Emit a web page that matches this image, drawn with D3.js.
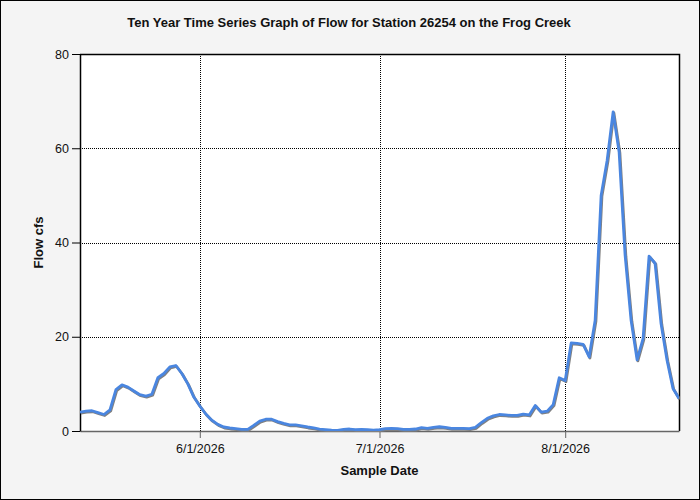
<!DOCTYPE html>
<html>
<head>
<meta charset="utf-8">
<script src="https://cdn.jsdelivr.net/npm/d3@7"></script>
<style>
  html, body { margin: 0; padding: 0; background: #f4f4f4; }
  svg { display: block; font-family: "Liberation Sans", Arial, sans-serif; }
</style>
</head>
<body>
<script>
/** Chart data */
const chartTitle = "Ten Year Time Series Graph of Flow for Station 26254 on the Frog Creek";
const xLabel = "Sample Date";
const yLabel = "Flow cfs";

const sampleDates = [
    "2026-05-12", "2026-05-13", "2026-05-14", "2026-05-15", "2026-05-16", "2026-05-17", "2026-05-18",
    "2026-05-19", "2026-05-20", "2026-05-21", "2026-05-22", "2026-05-23", "2026-05-24", "2026-05-25",
    "2026-05-26", "2026-05-27", "2026-05-28", "2026-05-29", "2026-05-30", "2026-05-31",
    "2026-06-01", "2026-06-02", "2026-06-03", "2026-06-04", "2026-06-05", "2026-06-06", "2026-06-07",
    "2026-06-08", "2026-06-09", "2026-06-10", "2026-06-11", "2026-06-12", "2026-06-13", "2026-06-14",
    "2026-06-15", "2026-06-16", "2026-06-17", "2026-06-18", "2026-06-19", "2026-06-20", "2026-06-21",
    "2026-06-22", "2026-06-23", "2026-06-24", "2026-06-25", "2026-06-26", "2026-06-27", "2026-06-28",
    "2026-06-29", "2026-06-30",
    "2026-07-01", "2026-07-02", "2026-07-03", "2026-07-04", "2026-07-05", "2026-07-06", "2026-07-07",
    "2026-07-08", "2026-07-09", "2026-07-10", "2026-07-11", "2026-07-12", "2026-07-13", "2026-07-14",
    "2026-07-15", "2026-07-16", "2026-07-17", "2026-07-18", "2026-07-19", "2026-07-20", "2026-07-21",
    "2026-07-22", "2026-07-23", "2026-07-24", "2026-07-25", "2026-07-26", "2026-07-27", "2026-07-28",
    "2026-07-29", "2026-07-30", "2026-07-31",
    "2026-08-01", "2026-08-02", "2026-08-03", "2026-08-04", "2026-08-05", "2026-08-06", "2026-08-07",
    "2026-08-08", "2026-08-09", "2026-08-10", "2026-08-11", "2026-08-12", "2026-08-13", "2026-08-14",
    "2026-08-15", "2026-08-16", "2026-08-17", "2026-08-18", "2026-08-19", "2026-08-20"
];

const flowValues = [
    4.0, 4.2, 4.3, 3.9, 3.5, 4.5, 8.8, 9.8, 9.3, 8.5, 7.7, 7.4, 7.8, 11.3,
    12.2, 13.6, 13.9, 12.2, 10.0, 7.2,
    5.3, 3.6, 2.3, 1.4, 0.85, 0.64, 0.5, 0.35, 0.35, 1.2, 2.1, 2.5, 2.5, 2.0,
    1.6, 1.3, 1.3, 1.1, 0.85, 0.64, 0.42, 0.3, 0.2, 0.15, 0.35, 0.42, 0.3, 0.35,
    0.3, 0.2,
    0.3, 0.5, 0.55, 0.5, 0.35, 0.35, 0.42, 0.7, 0.55, 0.78, 0.9, 0.78, 0.55, 0.55,
    0.55, 0.5, 0.78, 1.8, 2.7, 3.2, 3.5, 3.4, 3.3, 3.3, 3.6, 3.4, 5.4, 4.0,
    4.2, 5.6, 11.3,
    10.7, 18.7, 18.6, 18.4, 15.7, 23.5, 50.0, 57.4, 67.7, 59.2, 37.3, 23.5, 15.1, 19.6,
    37.1, 35.6, 22.8, 15.0, 9.0, 6.9
];

const yTicks = [0, 20, 40, 60, 80];
const xTicks = ["2026-06-01", "2026-07-01", "2026-08-01"];

/** Layout */
const width = 700;
const height = 500;
const margin = { top: 54, right: 21, bottom: 69, left: 80 };
const lineColor = "#4a86e0";

const parseDate = d3.timeParse("%Y-%m-%d");
const data = sampleDates.map((d, i) => ({ date: parseDate(d), flow: flowValues[i] }));

const svg = d3.select("body")
    .append("svg")
    .attr("width", width)
    .attr("height", height);

// page background and outer frame
svg.append("rect")
    .attr("x", 0.5).attr("y", 0.5)
    .attr("width", width - 1).attr("height", height - 1)
    .attr("fill", "#f4f4f4")
    .attr("stroke", "#000");

const x_scale = d3.scaleTime()
    .domain(d3.extent(data, (d) => d.date))
    .range([margin.left, width - margin.right]);

const y_scale = d3.scaleLinear()
    .domain([0, 80])
    .range([height - margin.bottom, margin.top]);

// plot area
svg.append("rect")
    .attr("x", margin.left)
    .attr("y", margin.top)
    .attr("width", width - margin.left - margin.right)
    .attr("height", height - margin.top - margin.bottom)
    .attr("fill", "#fff");

// dotted grid
const tickDates = xTicks.map(parseDate);
svg.append("g")
    .selectAll("line")
    .data(tickDates)
    .enter()
    .append("line")
    .attr("x1", (d) => Math.round(x_scale(d)) + 0.5)
    .attr("x2", (d) => Math.round(x_scale(d)) + 0.5)
    .attr("y1", margin.top)
    .attr("y2", height - margin.bottom)
    .attr("stroke", "#000")
    .attr("stroke-dasharray", "1,1");

svg.append("g")
    .selectAll("line")
    .data(yTicks.filter((v) => v > 0 && v < 80))
    .enter()
    .append("line")
    .attr("x1", margin.left)
    .attr("x2", width - margin.right)
    .attr("y1", (d) => Math.round(y_scale(d)) + 0.5)
    .attr("y2", (d) => Math.round(y_scale(d)) + 0.5)
    .attr("stroke", "#000")
    .attr("stroke-dasharray", "1,1");

// top and right border
svg.append("path")
    .attr("d", "M" + margin.left + "," + (margin.top + 0.5)
        + "H" + (width - margin.right + 0.5)
        + "V" + (height - margin.bottom))
    .attr("fill", "none")
    .attr("stroke", "#000")
    .attr("stroke-width", 1.5);

// axes
const x_axis = d3.axisBottom(x_scale)
    .tickValues(tickDates)
    .tickSize(7)
    .tickSizeOuter(0)
    .tickFormat(d3.timeFormat("%-m/%-d/%Y"));

const y_axis = d3.axisLeft(y_scale)
    .tickValues(yTicks)
    .tickSize(8)
    .tickSizeOuter(0)
    .tickPadding(3);

const gx = svg.append("g")
    .attr("transform", "translate(0, " + (height - margin.bottom) + ")")
    .call(x_axis);
gx.select(".domain").attr("stroke", "#666").attr("stroke-width", 1.5);
gx.selectAll(".tick line").attr("stroke", "#666");
gx.selectAll(".tick text")
    .attr("fill", "#111")
    .attr("dy", "0.95em")
    .style("font-size", "12.5px");

const gy = svg.append("g")
    .attr("transform", "translate(" + margin.left + ", 0)")
    .call(y_axis);
gy.select(".domain").attr("stroke", "#000").attr("stroke-width", 1.5);
gy.selectAll(".tick line").attr("stroke", "#000");
gy.selectAll(".tick text")
    .attr("fill", "#111")
    .style("font-size", "12.5px");

// flow line with a soft shadow beneath it
const line = d3.line()
    .x((d) => x_scale(d.date))
    .y((d) => y_scale(d.flow));

svg.append("clipPath").attr("id", "plot-clip")
    .append("rect")
    .attr("x", margin.left)
    .attr("y", margin.top - 5)
    .attr("width", width - margin.left - margin.right)
    .attr("height", height - margin.top - margin.bottom + 5);

svg.append("path")
    .datum(data)
    .attr("clip-path", "url(#plot-clip)")
    .attr("transform", "translate(0.8, 1)")
    .attr("fill", "none")
    .attr("stroke", "#808080")
    .attr("stroke-width", 2.8)
    .attr("stroke-linejoin", "round")
    .attr("d", line);

svg.append("path")
    .datum(data)
    .attr("clip-path", "url(#plot-clip)")
    .attr("fill", "none")
    .attr("stroke", lineColor)
    .attr("stroke-width", 2.8)
    .attr("stroke-linejoin", "round")
    .attr("d", line);

// titles
svg.append("text")
    .attr("x", 349)
    .attr("y", 27)
    .attr("text-anchor", "middle")
    .style("font-size", "13px")
    .style("font-weight", "bold")
    .attr("fill", "#111")
    .text(chartTitle);

svg.append("text")
    .attr("x", (margin.left + width - margin.right) / 2)
    .attr("y", 475)
    .attr("text-anchor", "middle")
    .style("font-size", "13px")
    .style("font-weight", "bold")
    .attr("fill", "#111")
    .text(xLabel);

svg.append("text")
    .attr("transform", "translate(43, " + ((margin.top + height - margin.bottom) / 2) + ") rotate(-90)")
    .attr("text-anchor", "middle")
    .style("font-size", "13px")
    .style("font-weight", "bold")
    .attr("fill", "#111")
    .text(yLabel);
</script>
</body>
</html>
